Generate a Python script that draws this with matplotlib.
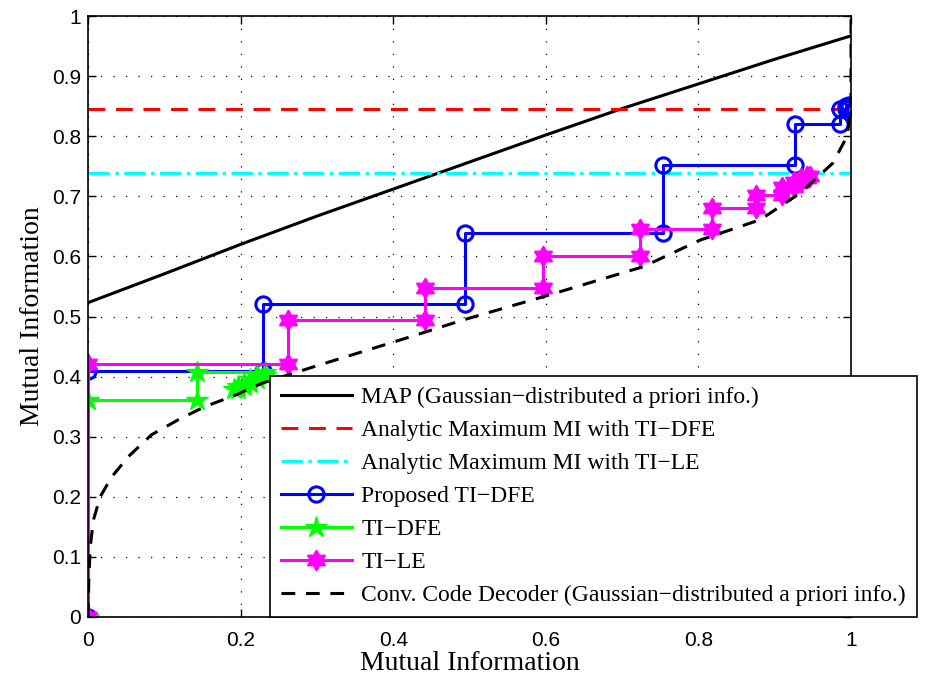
import numpy as np
import matplotlib
matplotlib.use('Agg')
import matplotlib.pyplot as plt
from matplotlib.path import Path

# EXIT chart data
map_x = [0, 0.1, 0.2, 0.3, 0.4, 0.5, 0.6, 0.7, 0.8, 0.9, 1.0]
map_y = [0.523, 0.571, 0.620, 0.667, 0.712, 0.757, 0.802, 0.846, 0.887, 0.928, 0.967]

mi_dfe = 0.845
mi_le = 0.739

dec_x = [0, 0.001, 0.003, 0.007, 0.016, 0.031, 0.053, 0.083, 0.118, 0.153, 0.193,
         0.228, 0.3, 0.422, 0.491, 0.597, 0.728, 0.802, 0.881, 0.933, 0.976, 0.995,
         1.0, 1.0]
dec_y = [0, 0.062, 0.117, 0.161, 0.2, 0.233, 0.267, 0.303, 0.328, 0.35, 0.369,
         0.389, 0.418, 0.466, 0.494, 0.533, 0.583, 0.627, 0.661, 0.705, 0.755, 0.8,
         0.85, 1.0]

prop_x = [0, 0, 0.229, 0.229, 0.494, 0.494, 0.753, 0.753, 0.926, 0.926, 0.985, 0.985,
          0.993, 0.993, 0.997, 0.997]
prop_y = [0, 0.41, 0.41, 0.52, 0.52, 0.639, 0.639, 0.752, 0.752, 0.821, 0.821, 0.846,
          0.846, 0.850, 0.850, 0.852]

dfe_x = [0, 0, 0.143, 0.143, 0.232, 0.232, 0.222, 0.222, 0.212, 0.212, 0.204, 0.204,
         0.197, 0.197, 0.192]
dfe_y = [0, 0.361, 0.361, 0.408, 0.408, 0.402, 0.402, 0.396, 0.396, 0.39, 0.39, 0.385,
         0.385, 0.38, 0.38]

le_x = [0, 0, 0.262, 0.262, 0.442, 0.442, 0.596, 0.596, 0.723, 0.723, 0.818, 0.818,
        0.876, 0.876, 0.909, 0.909, 0.925, 0.925, 0.935, 0.935, 0.942, 0.942, 0.946]
le_y = [0, 0.421, 0.421, 0.494, 0.494, 0.547, 0.547, 0.600, 0.600, 0.646, 0.646, 0.681,
        0.681, 0.702, 0.702, 0.716, 0.716, 0.724, 0.724, 0.730, 0.730, 0.733, 0.733]

# six-pointed star marker (hexagram)
ang_out = np.deg2rad(90 + 60 * np.arange(6))
ang_in = np.deg2rad(120 + 60 * np.arange(6))
r_in = 1 / np.sqrt(3)
verts = []
for a, b in zip(ang_out, ang_in):
    verts.append((np.cos(a), np.sin(a)))
    verts.append((r_in * np.cos(b), r_in * np.sin(b)))
verts.append(verts[0])
hexagram = Path(verts, closed=True)

serif = 'Liberation Serif'
sans = 'Liberation Sans'
blue = (0, 0, 1)
green = (0, 1, 0)
magenta = (1, 0, 1)
cyan = (0, 1, 1)
red = (1, 0, 0)

fig = plt.figure(figsize=(9.3, 6.82), dpi=100)
ax = fig.add_axes([88 / 930, 65 / 682, 763 / 930, 601 / 682])

lw = 2.2
ax.plot(map_x, map_y, color='k', lw=lw, label='MAP (Gaussian\u2212distributed a priori info.)')
ax.plot([0, 1], [mi_dfe, mi_dfe], color=red, lw=lw, linestyle=(0, (5.5, 3.5)),
        label='Analytic Maximum MI with TI\u2212DFE')
ax.plot([0, 1], [mi_le, mi_le], color=cyan, lw=lw, linestyle=(0, (7, 1.8, 1.1, 1.8)),
        label='Analytic Maximum MI with TI\u2212LE')
ax.plot(prop_x, prop_y, color=blue, lw=lw, marker='o', ms=11, mfc='none', mew=2.2,
        label='Proposed TI\u2212DFE')
ax.plot(dfe_x, dfe_y, color=green, lw=lw, marker='*', ms=16,
        label='TI\u2212DFE')
ax.plot(le_x, le_y, color=magenta, lw=lw, marker=hexagram, ms=14, mew=1.5,
        label='TI\u2212LE')
ax.plot(dec_x, dec_y, color='k', lw=lw, linestyle=(0, (4.5, 3.5)),
        label='Conv. Code Decoder (Gaussian\u2212distributed a priori info.)')

ax.set_xlim(0, 1)
ax.set_ylim(0, 1)
ax.set_xticks([0, 0.2, 0.4, 0.6, 0.8, 1])
ax.set_xticklabels(['0', '0.2', '0.4', '0.6', '0.8', '1'])
ax.set_yticks(np.arange(0, 1.01, 0.1))
ax.set_yticklabels(['0', '0.1', '0.2', '0.3', '0.4', '0.5', '0.6', '0.7', '0.8', '0.9', '1'])
ax.tick_params(direction='in', top=True, right=True, length=6, width=1, labelsize=15)
ax.tick_params(axis='x', pad=10)
ax.tick_params(axis='y', pad=5)
for t in ax.get_xticklabels() + ax.get_yticklabels():
    t.set_fontfamily(sans)
for s in ax.spines.values():
    s.set_linewidth(1.2)
ax.grid(True, color='k', lw=0.9, linestyle=(0, (1, 9)))

ax.set_xlabel('Mutual Information', fontfamily=serif, fontsize=20)
ax.set_ylabel('Mutual Information', fontfamily=serif, fontsize=20)
ax.xaxis.set_label_coords(0.5, -0.057)
ax.yaxis.set_label_coords(-0.056, 0.5)

leg = ax.legend(loc='upper left', bbox_to_anchor=(182 / 763, 241 / 601),
                borderaxespad=0, fancybox=False, edgecolor='k', framealpha=1,
                prop={'family': serif, 'size': 17}, handlelength=3.0,
                handletextpad=0.4, labelspacing=0.483, borderpad=0.46)
leg.get_frame().set_linewidth(1.2)

fig.savefig('out.png', dpi=100)
